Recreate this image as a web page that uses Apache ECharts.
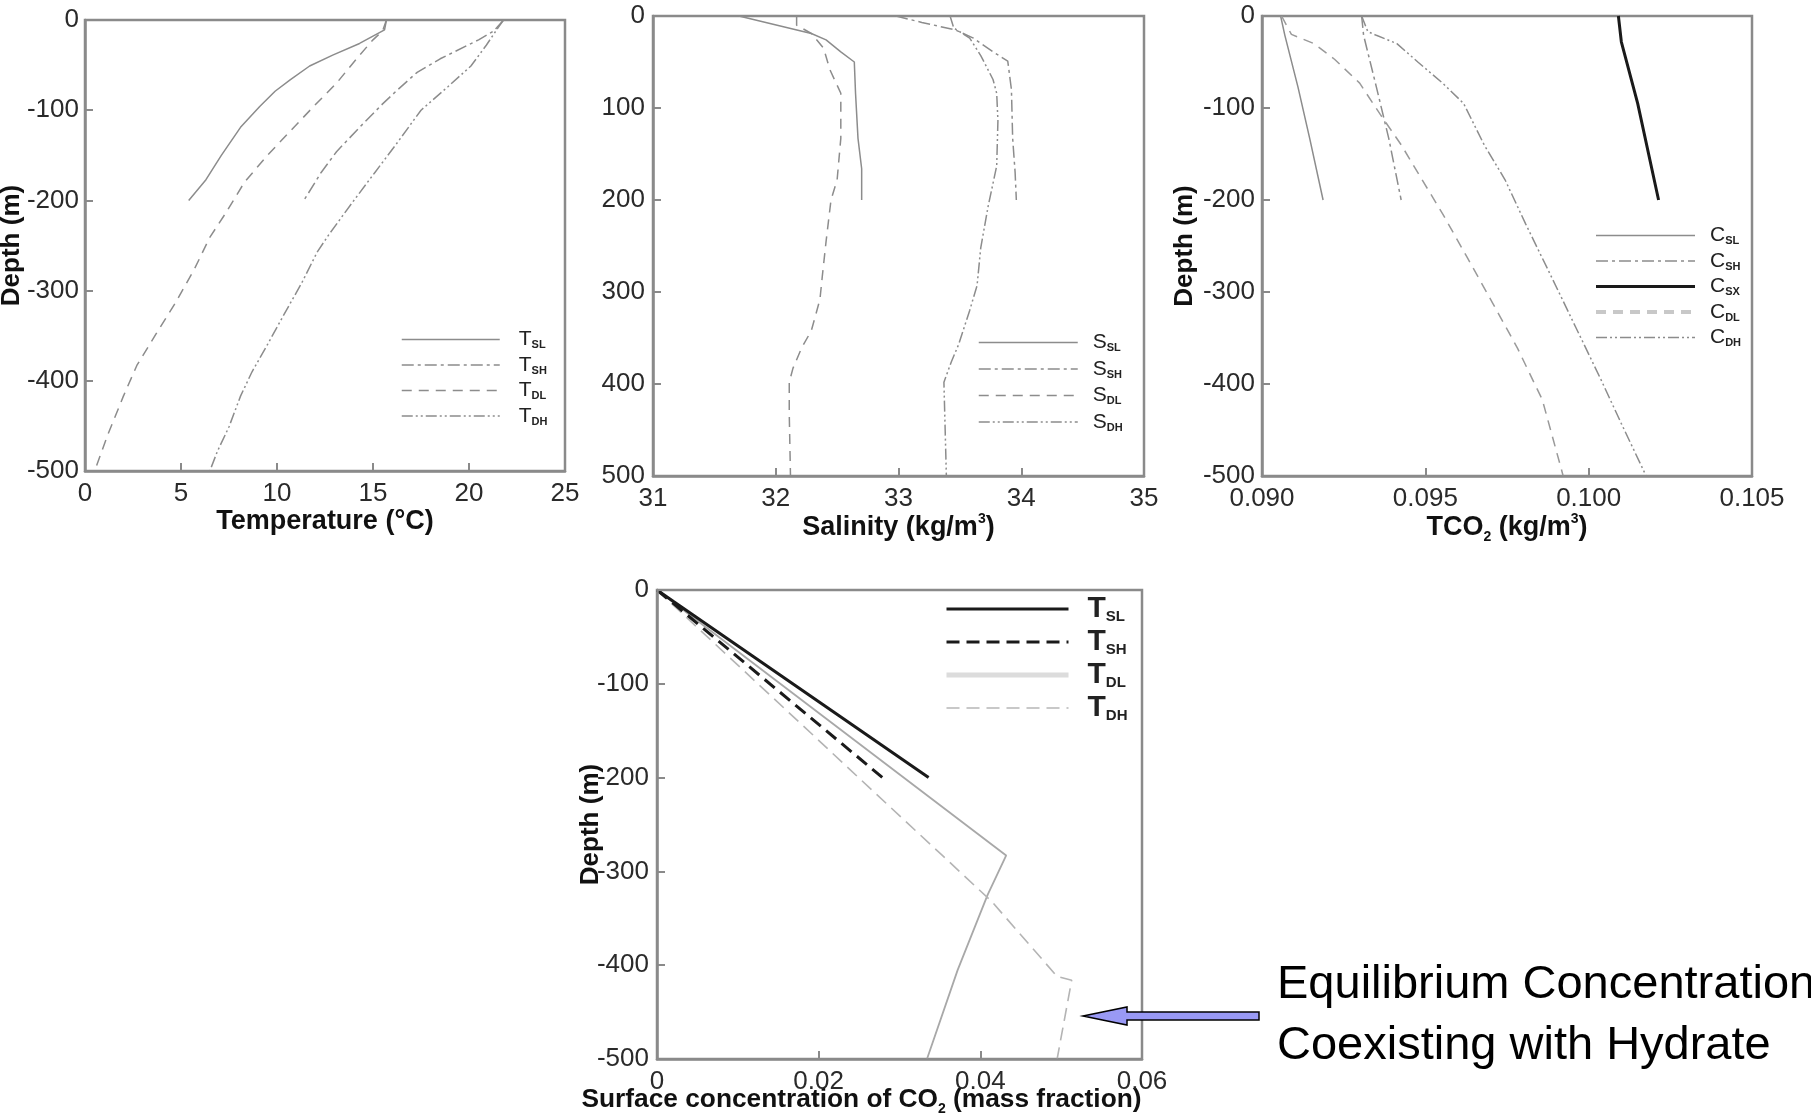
<!DOCTYPE html>
<html><head><meta charset="utf-8">
<script src="https://cdn.jsdelivr.net/npm/echarts@6/dist/echarts.min.js"></script>
<style>html,body{margin:0;padding:0;background:#fff;overflow:hidden}#c{width:1811px;height:1118px}</style>
</head><body><div id="c"></div>
<script>
// ---------- Panel 1: Temperature (°C) vs depth (m) ----------
const tempSL_x = [15.7, 15.6, 14.3, 12.9, 11.7, 10.7, 9.9, 9.1, 8.1, 7.1, 6.3, 5.4];
const tempSL_d = [0, -11, -26, -39, -51, -66, -79, -96, -119, -150, -177, -200];
const tempSH_x = [21.8, 21.3, 20.5, 18.5, 17.3, 16.3, 15.5, 14.3, 13.1, 12.3, 11.4];
const tempSH_d = [0, -12, -22, -43, -58, -77, -93, -119, -146, -169, -200];
const tempDL_x = [15.7, 15.5, 15.0, 14.3, 13.1, 11.9, 10.7, 9.5, 8.3, 7.3, 6.5, 5.7, 4.7, 3.7, 2.7, 2.0, 1.2, 0.5];
const tempDL_d = [0, -12, -22, -39, -70, -96, -123, -150, -180, -215, -241, -276, -314, -348, -383, -417, -459, -500];
const tempDH_x = [21.8, 21.5, 20.9, 20.1, 18.9, 17.5, 16.3, 15.1, 13.9, 12.7, 12.1, 11.3, 10.3, 9.5, 8.7, 8.1, 7.5, 6.9, 6.5];
const tempDH_d = [0, -9, -28, -51, -74, -100, -135, -169, -203, -238, -257, -291, -329, -360, -390, -417, -451, -478, -500];

// ---------- Panel 2: Salinity (kg/m3) vs depth (m, positive down) ----------
const salSL_x = [31.70, 32.29, 32.41, 32.53, 32.64, 32.65, 32.67, 32.70, 32.70];
const salSL_d = [0, 19, 26, 39, 50, 84, 133, 166, 200];
const salSH_x = [32.98, 33.19, 33.46, 33.61, 33.77, 33.89, 33.92, 33.93, 33.95, 33.96];
const salSH_d = [0, 7, 15, 24, 39, 49, 80, 133, 170, 200];
const salDL_x = [32.17, 32.17, 32.29, 32.39, 32.44, 32.53, 32.53, 32.50, 32.45, 32.41, 32.38, 32.36, 32.29, 32.21, 32.14, 32.11, 32.11, 32.12];
const salDL_d = [0, 10, 19, 35, 58, 84, 133, 178, 200, 245, 282, 308, 342, 361, 383, 398, 432, 500];
const salDH_x = [33.42, 33.45, 33.58, 33.67, 33.77, 33.80, 33.81, 33.80, 33.73, 33.67, 33.64, 33.58, 33.49, 33.43, 33.37, 33.39];
const salDH_d = [0, 13, 24, 43, 69, 84, 114, 163, 207, 252, 293, 320, 357, 376, 398, 500];

// ---------- Panel 3: TCO2 (kg/m3) vs depth (m) ----------
const co2SL_x = [0.09057, 0.0907, 0.0911, 0.09146, 0.09187];
const co2SL_d = [0, -21, -77, -133, -200];
const co2SH_x = [0.09305, 0.09311, 0.0935, 0.09388, 0.09426];
const co2SH_d = [0, -21, -77, -133, -200];
const co2SX_x = [0.10091, 0.1010, 0.1015, 0.10214];
const co2SX_d = [0, -28, -95, -200];
const co2DL_x = [0.0906, 0.0909, 0.09159, 0.09222, 0.09299, 0.09362, 0.09426, 0.0949, 0.09553, 0.09629, 0.09706, 0.09782, 0.09858, 0.09922];
const co2DL_d = [0, -20, -30, -47, -73, -107, -140, -178, -215, -263, -312, -361, -417, -500];
const co2DH_x = [0.09305, 0.09324, 0.0935, 0.09413, 0.09477, 0.09553, 0.09617, 0.0968, 0.09744, 0.09807, 0.09884, 0.0996, 0.10036, 0.101, 0.10176];
const co2DH_d = [0, -17, -21, -30, -50, -73, -95, -140, -178, -226, -282, -338, -394, -443, -500];

// ---------- Panel 4: Surface concentration of CO2 (mass fraction) vs depth ----------
const surfSL_x = [0, 0.0020, 0.0336];
const surfSL_d = [0, -12, -200];
const surfSH_x = [0, 0.0017, 0.0279];
const surfSH_d = [0, -12, -200];
const surfDL_x = [0, 0.0432, 0.0409, 0.0372, 0.0334];
const surfDL_d = [0, -283, -325, -405, -500];
const surfDH_x = [0, 0.0191, 0.0263, 0.0353, 0.0414, 0.0495, 0.0513, 0.0495];
const surfDH_d = [0, -153, -211, -283, -332, -412, -416, -500];

// ---------- tick label lists ----------
const depthTicksNeg = [0, -100, -200, -300, -400, -500];
const depthTicksPos = [0, 100, 200, 300, 400, 500];

const FONT = 'Liberation Sans, Arial, Helvetica, sans-serif';
const GRAY = '#8c8c8c';
const FRAME = '#8a8a8a';
const DASHDOT = [12, 4, 3, 4];
const DASH = [10, 7];
const DASHDOTDOT = [11, 3, 2, 3, 2, 3];

const pairs = (xs, ds) => xs.map((x, i) => [x, ds[i]]);

function line(name, xs, ds, idx, ls, z) {
  return {
    type: 'line', name: name, xAxisIndex: idx, yAxisIndex: idx,
    data: pairs(xs, ds), symbol: 'none', showSymbol: false, silent: true, animation: false,
    z: z || 2, lineStyle: ls, itemStyle: {color: ls.color, opacity: 0}
  };
}

const grids = [
  {left: 85, top: 20, width: 480, height: 451},
  {left: 653, top: 16, width: 491, height: 460},
  {left: 1262, top: 16, width: 490, height: 460},
  {left: 657, top: 590, width: 485, height: 469}
].map(g => Object.assign({show: true, borderColor: FRAME, borderWidth: 2.5, backgroundColor: 'transparent', containLabel: false, outerBoundsMode: 'none', z: 0}, g));

function makeRich(size) {
  return {
    b: {fontFamily: FONT, fontSize: size, fontWeight: 'bold', color: '#111', lineHeight: 32},
    sub: {fontFamily: FONT, fontSize: 14, fontWeight: 'bold', color: '#111', lineHeight: 14, verticalAlign: 'bottom'},
    sup: {fontFamily: FONT, fontSize: 14, fontWeight: 'bold', color: '#111', lineHeight: 14, verticalAlign: 'top'}
  };
}

function xAxis(idx, min, max, interval, name, gap, fmt, nameSize, extraNameStyle) {
  return {
    type: 'value', gridIndex: idx, min: min, max: max, interval: interval, z: 10,
    name: name, nameLocation: 'middle', nameGap: gap, nameMoveOverlap: false,
    nameTextStyle: Object.assign({fontFamily: FONT, fontSize: nameSize, fontWeight: 'bold', color: '#111', rich: makeRich(nameSize)}, extraNameStyle || {}),
    axisLine: {show: true, onZero: false, lineStyle: {color: FRAME, width: 2.5}},
    axisTick: {show: true, inside: true, length: 8, lineStyle: {color: FRAME, width: 2}},
    splitLine: {show: false},
    axisLabel: {fontFamily: FONT, fontSize: 26, color: '#2a2a2a', margin: 10, formatter: fmt, showMinLabel: true, showMaxLabel: true}
  };
}
function yAxis(idx, min, max, inverse, name, gap, margin) {
  return {
    type: 'value', gridIndex: idx, min: min, max: max, interval: 100, inverse: inverse, z: 10,
    name: name, nameLocation: 'middle', nameGap: gap, nameMoveOverlap: false,
    nameTextStyle: {fontFamily: FONT, fontSize: 26, fontWeight: 'bold', color: '#111'},
    axisLine: {show: true, onZero: false, lineStyle: {color: FRAME, width: 2.5}},
    axisTick: {show: true, inside: true, length: 8, lineStyle: {color: FRAME, width: 2}},
    splitLine: {show: false},
    axisLabel: {fontFamily: FONT, fontSize: 26, color: '#2a2a2a', margin: margin, showMinLabel: true, showMaxLabel: true}
  };
}

function legend(left, top, itemWidth, lh, gap, names, mainSize, subSize, bold, padLeft, dataOverrides) {
  return {
    show: true, orient: 'vertical', left: left, top: top, padding: 0,
    itemWidth: itemWidth, itemHeight: lh, itemGap: gap, selectedMode: false,
    lineStyle: {width: 'inherit'},
    itemStyle: {opacity: 0, borderWidth: 0},
    data: names.map(n => Object.assign({name: n}, (dataOverrides && dataOverrides[n]) || {})),
    formatter: function (n) { const p = n.split(':'); return '{m|' + p[1] + '}{s|' + p[2] + '}'; },
    textStyle: {
      rich: {
        m: {fontFamily: FONT, fontSize: mainSize, fontWeight: bold ? 'bold' : 'normal', color: '#222', lineHeight: lh, padding: [0, 0, 0, padLeft]},
        s: {fontFamily: FONT, fontSize: subSize, fontWeight: 'bold', color: '#222', lineHeight: subSize, verticalAlign: 'bottom'}
      }
    }
  };
}

const series = [
  line('1:T:SL', tempSL_x, tempSL_d, 0, {color: GRAY, width: 1.5}),
  line('1:T:SH', tempSH_x, tempSH_d, 0, {color: GRAY, width: 1.5, type: DASHDOT}),
  line('1:T:DL', tempDL_x, tempDL_d, 0, {color: GRAY, width: 1.5, type: DASH}),
  line('1:T:DH', tempDH_x, tempDH_d, 0, {color: GRAY, width: 1.5, type: DASHDOTDOT}),

  line('2:S:SL', salSL_x, salSL_d, 1, {color: GRAY, width: 1.5}),
  line('2:S:SH', salSH_x, salSH_d, 1, {color: GRAY, width: 1.5, type: DASHDOT}),
  line('2:S:DL', salDL_x, salDL_d, 1, {color: GRAY, width: 1.5, type: DASH}),
  line('2:S:DH', salDH_x, salDH_d, 1, {color: GRAY, width: 1.5, type: DASHDOTDOT}),

  line('3:C:SL', co2SL_x, co2SL_d, 2, {color: GRAY, width: 1.5}),
  line('3:C:SH', co2SH_x, co2SH_d, 2, {color: GRAY, width: 1.5, type: DASHDOT}),
  line('3:C:SX', co2SX_x, co2SX_d, 2, {color: '#1a1a1a', width: 3}, 4),
  line('3:C:DL', co2DL_x, co2DL_d, 2, {color: '#9a9a9a', width: 1.5, type: DASH}),
  line('3:C:DH', co2DH_x, co2DH_d, 2, {color: GRAY, width: 1.5, type: DASHDOTDOT}),

  line('4:T:SL', surfSL_x, surfSL_d, 3, {color: '#1a1a1a', width: 3}, 5),
  line('4:T:SH', surfSH_x, surfSH_d, 3, {color: '#1a1a1a', width: 3, type: [13, 7]}, 5),
  line('4:T:DL', surfDL_x, surfDL_d, 3, {color: '#a8a8a8', width: 1.8}, 3),
  line('4:T:DH', surfDH_x, surfDH_d, 3, {color: '#b4b4b4', width: 1.6, type: [13, 7]}, 3)
];

const option = {
  backgroundColor: '#ffffff',
  animation: false,
  grid: grids,
  xAxis: [
    xAxis(0, 0, 25, 5, '{b|Temperature (°C)}', 35, null, 27),
    xAxis(1, 31, 35, 1, '{b|Salinity (kg/m}{sup|3}{b|)}', 36, null, 27),
    xAxis(2, 0.090, 0.105, 0.005, '{b|TCO}{sub|2}{b| (kg/m}{sup|3}{b|)}', 36, v => v.toFixed(3), 27),
    xAxis(3, 0, 0.06, 0.02, '{b|Surface concentration of CO}{sub|2}{b| (mass fraction)}', 25, v => (v === 0 ? '0' : String(+v.toFixed(2))), 26.3, {padding: [0, 76, 0, 0]})
  ],
  yAxis: [
    yAxis(0, depthTicksNeg[5], depthTicksNeg[0], false, 'Depth (m)', 60, 6),
    yAxis(1, depthTicksPos[0], depthTicksPos[5], true, '', 40, 8),
    yAxis(2, depthTicksNeg[5], depthTicksNeg[0], false, 'Depth (m)', 64, 7),
    yAxis(3, depthTicksNeg[5], depthTicksNeg[0], false, 'Depth (m)', 53, 8)
  ],
  legend: [
    legend(401, 329, 98, 22, 4, ['1:T:SL', '1:T:SH', '1:T:DL', '1:T:DH'], 21, 11, false, 14),
    legend(978, 332, 99, 22, 5, ['2:S:SL', '2:S:SH', '2:S:DL', '2:S:DH'], 21, 11, false, 10),
    legend(1594, 225, 99, 22, 4, ['3:C:SL', '3:C:SH', '3:C:SX', '3:C:DL', '3:C:DH'], 21, 11, false, 10,
      {'3:C:DL': {lineStyle: {color: '#c8c8c8', width: 4}}}),
    legend(944, 594, 122, 30, 3, ['4:T:SL', '4:T:SH', '4:T:DL', '4:T:DH'], 30, 15, true, 14,
      {'4:T:DL': {lineStyle: {color: '#dcdcdc', width: 5}}, '4:T:DH': {lineStyle: {color: '#c8c8c8', width: 2}}})
  ],
  graphic: [
    {type: 'polygon', silent: true, z: 100,
     shape: {points: [[1083, 1016], [1127, 1007], [1127, 1012], [1259, 1012], [1259, 1020], [1127, 1020], [1127, 1025]]},
     style: {fill: '#9999f5', stroke: '#000', lineWidth: 1.5}},
    {type: 'text', x: 1277, y: 985, silent: true, z: 100,
     style: {text: 'Equilibrium Concentration', font: '47px ' + FONT, fill: '#000', align: 'left', verticalAlign: 'middle'}},
    {type: 'text', x: 1277, y: 1046, silent: true, z: 100,
     style: {text: 'Coexisting with Hydrate', font: '47px ' + FONT, fill: '#000', align: 'left', verticalAlign: 'middle'}}
  ],
  series: series
};

const chart = echarts.init(document.getElementById('c'), null, {renderer: 'canvas'});
chart.setOption(option);
</script></body></html>
